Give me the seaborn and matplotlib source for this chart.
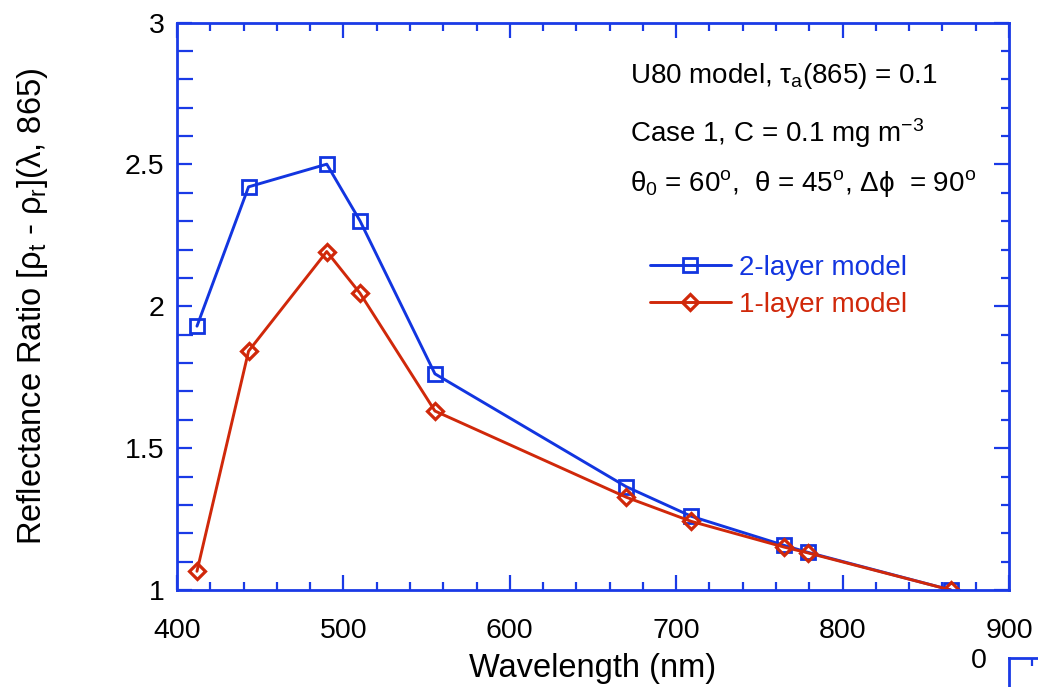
import matplotlib
matplotlib.use("Agg")
import matplotlib.pyplot as plt
from matplotlib.ticker import MultipleLocator, FixedLocator
import seaborn as sns

# Band centres (nm) and reflectance ratios for the two aerosol models
wavelength = [412, 443, 490, 510, 555, 670, 709, 765, 779, 865]
two_layer = [1.930, 2.421, 2.501, 2.301, 1.762, 1.364, 1.260, 1.157, 1.133, 1.000]
one_layer = [1.066, 1.842, 2.193, 2.046, 1.631, 1.327, 1.242, 1.151, 1.131, 1.000]
series_names = ["2-layer model", "1-layer model"]
x_ticks = [400, 500, 600, 700, 800, 900]
y_ticks = [1, 1.5, 2, 2.5, 3]
y_tick_labels = ["1", "1.5", "2", "2.5", "3"]

BLUE = "#1235e0"
RED = "#d0280a"
AXIS_BLUE = "#1a3ae6"

sns.set_theme(style="white")
plt.rcParams["font.family"] = ["Liberation Sans", "DejaVu Sans"]
plt.rcParams["mathtext.fontset"] = "custom"
plt.rcParams["mathtext.rm"] = "Liberation Sans"
plt.rcParams["mathtext.it"] = "Liberation Sans"
plt.rcParams["mathtext.bf"] = "Liberation Sans:bold"

W, H = 1038, 687
fig = plt.figure(figsize=(W / 100, H / 100), dpi=100)
left, right, top, bottom = 177, 1009, 22.6, 590
ax = fig.add_axes([left / W, 1 - bottom / H, (right - left) / W, (bottom - top) / H])

sns.lineplot(x=wavelength, y=two_layer, color=BLUE, marker="s", markeredgecolor=BLUE,
             label=series_names[0], ax=ax, linewidth=2.1, markersize=10,
             markerfacecolor="none", markeredgewidth=2.0)
sns.lineplot(x=wavelength, y=one_layer, color=RED, marker="D", markeredgecolor=RED,
             label=series_names[1], ax=ax, linewidth=2.1, markersize=8.5,
             markerfacecolor="none", markeredgewidth=2.3)

ax.set_xlim(400, 900)
ax.set_ylim(1, 3)
ax.xaxis.set_major_locator(FixedLocator(x_ticks))
ax.xaxis.set_minor_locator(MultipleLocator(20))
ax.yaxis.set_major_locator(FixedLocator(y_ticks))
ax.set_yticklabels(y_tick_labels)
ax.yaxis.set_minor_locator(MultipleLocator(0.1))

for sp in ax.spines.values():
    sp.set_color(AXIS_BLUE)
    sp.set_linewidth(2.0)

ax.tick_params(which="both", direction="in", top=True, right=True, bottom=True, left=True,
               color=AXIS_BLUE, width=1.6, labelsize=20.5, labelcolor="black")
ax.tick_params(which="major", length=11)
ax.tick_params(which="minor", length=5.8)
ax.tick_params(axis="x", which="major", pad=20)
ax.tick_params(axis="y", which="major", pad=9)
# left-side minor ticks are drawn as long as the major ones
for t in ax.yaxis.get_minor_ticks():
    t.tick1line.set_markersize(11.5)

ax.set_xlabel("Wavelength (nm)", fontsize=23.5, color="black", labelpad=7)
ax.set_ylabel(r"Reflectance Ratio [$\rho_{t}$ - $\rho_{r}$]($\lambda$, 865)",
              fontsize=23.5, color="black", labelpad=54)

ax.legend(loc="upper left", bbox_to_anchor=(650 / W, 1 - 255 / H),
          bbox_transform=fig.transFigure, frameon=False, fontsize=20,
          handlelength=2.9, handletextpad=0.3, labelspacing=0.4,
          borderpad=0, borderaxespad=0, labelcolor="linecolor")

txt_kw = dict(fontsize=20, color="black", va="center", ha="left")
fig.text(630 / W, 1 - 76 / H, r"U80 model, $\tau_{a}$(865) = 0.1", **txt_kw)
fig.text(630 / W, 1 - 133 / H, r"Case 1, C = 0.1 mg m$^{-3}$", **txt_kw)
fig.text(630 / W, 1 - 183 / H,
         r"$\theta_{0}$ = 60$^{o}$,  $\theta$ = 45$^{o}$, $\Delta\phi$  = 90$^{o}$", **txt_kw)

# corner of the neighbouring panel
ax2 = fig.add_axes([1009 / W, (H - 658) / H - 0.3, 0.2, 0.3])
ax2.set_facecolor("none")
ax2.set_xlim(0, 9)
ax2.set_ylim(-1, 0)
ax2.set_yticks([0])
ax2.set_yticklabels(["0"])
ax2.set_xticks([1])
ax2.set_xticklabels([])
for name, sp in ax2.spines.items():
    sp.set_color(AXIS_BLUE)
    sp.set_linewidth(2.0)
    sp.set_visible(name in ("top", "left"))
ax2.tick_params(axis="x", which="major", direction="in", top=True, bottom=False,
                length=5.8, width=1.6, color=AXIS_BLUE)
ax2.tick_params(axis="y", which="major", direction="in", length=0, labelsize=20.5,
                labelcolor="black", pad=16)

fig.savefig("out.png", dpi=100)
